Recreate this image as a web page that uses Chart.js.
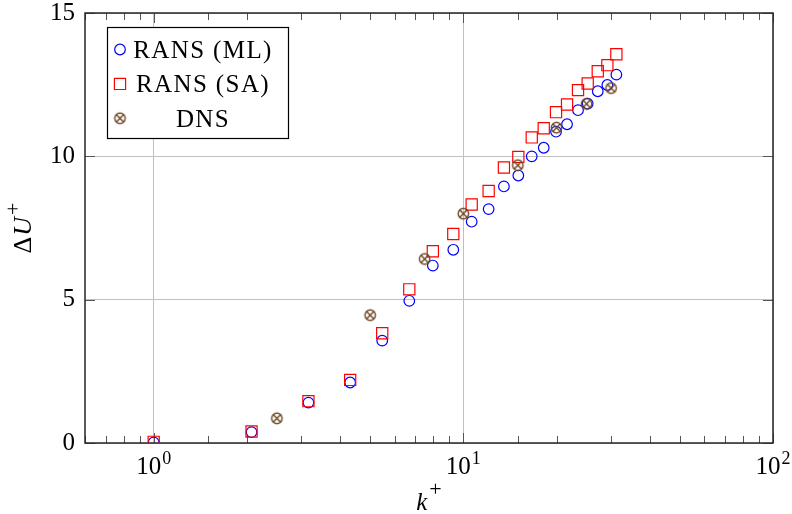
<!DOCTYPE html>
<html>
<head>
<meta charset="utf-8">
<script src="https://cdn.jsdelivr.net/npm/chart.js@4.4.0/dist/chart.umd.min.js"></script>
<style>
  html, body { margin: 0; padding: 0; background: #fff; }
</style>
</head>
<body>
<canvas id="roughnessChart" width="792" height="514"></canvas>
<script>
// roughness Reynolds number k+ (shared by both RANS runs)
const kPlusRans = [1.0, 2.07, 3.16, 4.31, 5.47, 6.69, 7.97, 9.28, 10.64, 12.07, 13.52,
  15.05, 16.63, 18.18, 19.92, 21.62, 23.46, 25.21, 27.17, 29.18, 31.2];
// roughness function ΔU+
const dUPlusML = [0.02, 0.38, 1.41, 2.11, 3.57, 4.96, 6.19, 6.74, 7.72, 8.16, 8.95,
  9.33, 10.0, 10.30, 10.86, 11.12, 11.61, 11.84, 12.27, 12.49, 12.85];
const dUPlusSA = [0.04, 0.40, 1.46, 2.20, 3.83, 5.36, 6.69, 7.29, 8.32, 8.79, 9.61,
  9.98, 10.66, 10.98, 11.54, 11.81, 12.31, 12.54, 12.97, 13.18, 13.56];
const kPlusDNS = [2.5, 5, 7.5, 10, 15, 20, 25, 30];
const dUPlusDNS = [0.86, 4.46, 6.42, 8.0, 9.69, 11.0, 11.83, 12.38];

const seriesNames = ["RANS (ML)", "RANS (SA)", "DNS"];
const xTickValues = [1, 10, 100];
const xTickExponents = ["0", "1", "2"];
const yTickStep = 5;

const SERIF = "'Liberation Serif'";
const BROWN = "rgb(108, 70, 34)";

function isDecade(v) {
  const l = Math.log10(v);
  return Math.abs(l - Math.round(l)) < 1e-6;
}

// circle with a cross through it, used as the DNS marker
function otimesMarker(color) {
  const c = document.createElement("canvas");
  c.width = 15; c.height = 15;
  const g = c.getContext("2d");
  g.strokeStyle = color;
  g.lineWidth = 1.4;
  g.beginPath();
  g.arc(7.5, 7.5, 5.2, 0, Math.PI * 2);
  g.stroke();
  const d = 5.2 * Math.SQRT1_2;
  g.beginPath();
  g.moveTo(7.5 - d, 7.5 - d); g.lineTo(7.5 + d, 7.5 + d);
  g.moveTo(7.5 + d, 7.5 - d); g.lineTo(7.5 - d, 7.5 + d);
  g.stroke();
  return c;
}

function toPoints(xs, ys) {
  return xs.map((x, i) => ({ x: x, y: ys[i] }));
}

// ticks pointing inwards on all four sides, plus the closed frame
const frameTicks = {
  id: "frameTicks",
  beforeDatasetsDraw(chart) {
    const { ctx, chartArea: a, scales: { x, y } } = chart;
    ctx.save();
    ctx.strokeStyle = "#555";
    ctx.lineWidth = 1;
    ctx.beginPath();
    x.ticks.forEach(t => {
      const px = Math.round(x.getPixelForValue(t.value)) + 0.5;
      const len = isDecade(t.value) ? 10 : 7;
      ctx.moveTo(px, a.bottom); ctx.lineTo(px, a.bottom - len);
      ctx.moveTo(px, a.top); ctx.lineTo(px, a.top + len);
    });
    y.ticks.forEach(t => {
      const py = Math.round(y.getPixelForValue(t.value)) + 0.5;
      ctx.moveTo(a.left, py); ctx.lineTo(a.left + 10, py);
      ctx.moveTo(a.right, py); ctx.lineTo(a.right - 10, py);
    });
    ctx.stroke();
    ctx.strokeStyle = "#262626";
    ctx.lineWidth = 1.5;
    ctx.strokeRect(a.left, a.top, a.right - a.left, a.bottom - a.top);
    ctx.restore();
  }
};

// tick labels 10^n, axis titles and the boxed legend
const annotations = {
  id: "annotations",
  afterDraw(chart) {
    const { ctx, chartArea: a, scales: { x } } = chart;
    ctx.save();
    ctx.fillStyle = "#000";
    ctx.textBaseline = "alphabetic";
    ctx.textAlign = "left";

    xTickValues.forEach((v, i) => {
      const px = x.getPixelForValue(v);
      ctx.font = "25px " + SERIF;
      const w1 = ctx.measureText("10").width;
      ctx.font = "18px " + SERIF;
      const w2 = ctx.measureText(xTickExponents[i]).width;
      const left = px - (w1 + w2 + 1) / 2;
      ctx.font = "25px " + SERIF;
      ctx.fillText("10", left, a.bottom + 31);
      ctx.font = "18px " + SERIF;
      ctx.fillText(xTickExponents[i], left + w1 + 1, a.bottom + 21);
    });

    // x title: k+
    {
      ctx.font = "italic 25px " + SERIF;
      const wk = ctx.measureText("k").width;
      ctx.font = "22px " + SERIF;
      const wp = ctx.measureText("+").width;
      const cx = (a.left + a.right) / 2;
      const left = cx - (wk + wp + 2) / 2;
      ctx.font = "italic 25px " + SERIF;
      ctx.fillText("k", left, a.bottom + 67);
      ctx.font = "22px " + SERIF;
      ctx.fillText("+", left + wk + 2, a.bottom + 53);
    }

    // y title: ΔU+
    {
      ctx.save();
      ctx.translate(31, (a.top + a.bottom) / 2);
      ctx.rotate(-Math.PI / 2);
      ctx.font = "26px " + SERIF;
      const wd = ctx.measureText("Δ").width;
      ctx.font = "italic 26px " + SERIF;
      const wu = ctx.measureText("U").width;
      ctx.font = "22px " + SERIF;
      const wp = ctx.measureText("+").width;
      const left = -(wd + wu + wp + 3) / 2;
      ctx.font = "26px " + SERIF;
      ctx.fillText("Δ", left, 0);
      ctx.font = "italic 26px " + SERIF;
      ctx.fillText("U", left + wd + 1, 0);
      ctx.font = "22px " + SERIF;
      ctx.fillText("+", left + wd + wu + 3, -11);
      ctx.restore();
    }

    // legend
    const lx = a.left + 22, ly = a.top + 14, lw = 181, lh = 111;
    ctx.fillStyle = "#fff";
    ctx.fillRect(lx, ly, lw, lh);
    ctx.strokeStyle = "#000";
    ctx.lineWidth = 1.2;
    ctx.strokeRect(lx + 0.5, ly + 0.5, lw, lh);
    chart.data.datasets.forEach((ds, i) => {
      const cy = ly + 22.5 + i * 34.4;
      ctx.fillStyle = "rgba(0,0,0,0)";
      ctx.strokeStyle = ds.borderColor;
      ctx.lineWidth = ds.borderWidth;
      Chart.helpers.drawPoint(ctx, {
        pointStyle: ds.pointStyle, radius: ds.pointRadius,
        rotation: 0, borderWidth: ds.borderWidth
      }, lx + 13, cy);
      ctx.fillStyle = "#000";
      ctx.font = "25px " + SERIF;
      ctx.letterSpacing = "1.4px";
      ctx.textAlign = "center";
      ctx.fillText(seriesNames[i], lx + 96, cy + 8.5);
      ctx.letterSpacing = "0px";
      ctx.textAlign = "left";
    });
    ctx.restore();
  }
};

new Chart(document.getElementById("roughnessChart"), {
  type: "scatter",
  data: {
    datasets: [
      {
        label: seriesNames[0],
        data: toPoints(kPlusRans, dUPlusML),
        pointStyle: "circle",
        pointRadius: 5.3,
        borderColor: "#0000ff",
        backgroundColor: "rgba(0,0,0,0)",
        borderWidth: 1.2,
        order: 2
      },
      {
        label: seriesNames[1],
        data: toPoints(kPlusRans, dUPlusSA),
        pointStyle: "rect",
        pointRadius: 7.9,
        borderColor: "#ff0000",
        backgroundColor: "rgba(0,0,0,0)",
        borderWidth: 1.2,
        order: 1
      },
      {
        label: seriesNames[2],
        data: toPoints(kPlusDNS, dUPlusDNS),
        pointStyle: otimesMarker(BROWN),
        pointRadius: 5,
        borderColor: BROWN,
        backgroundColor: "rgba(0,0,0,0)",
        borderWidth: 1.3,
        order: 0
      }
    ]
  },
  options: {
    responsive: false,
    animation: false,
    layout: { padding: { top: 13, right: 19, left: 0, bottom: 0 } },
    plugins: {
      legend: { display: false },
      tooltip: { enabled: false }
    },
    scales: {
      x: {
        type: "logarithmic",
        min: 0.6,
        max: 100,
        afterFit: s => {
          s.height = 71;
          s.paddingLeft = 0; s.paddingRight = 0;
        },
        border: { display: false },
        ticks: { display: false, autoSkip: false },
        grid: {
          drawTicks: false,
          color: c => (c.tick && isDecade(c.tick.value)) ? "#c0c0c0" : "rgba(0,0,0,0)",
          lineWidth: 1
        }
      },
      y: {
        min: 0,
        max: 15,
        afterFit: s => {
          s.width = 85;
          s.paddingTop = 0; s.paddingBottom = 0;
        },
        border: { display: false },
        ticks: {
          stepSize: yTickStep,
          padding: 10,
          color: "#000",
          font: { family: SERIF, size: 25 }
        },
        grid: { drawTicks: false, color: "#c0c0c0", lineWidth: 1 }
      }
    }
  },
  plugins: [frameTicks, annotations]
});
</script>
</body>
</html>
